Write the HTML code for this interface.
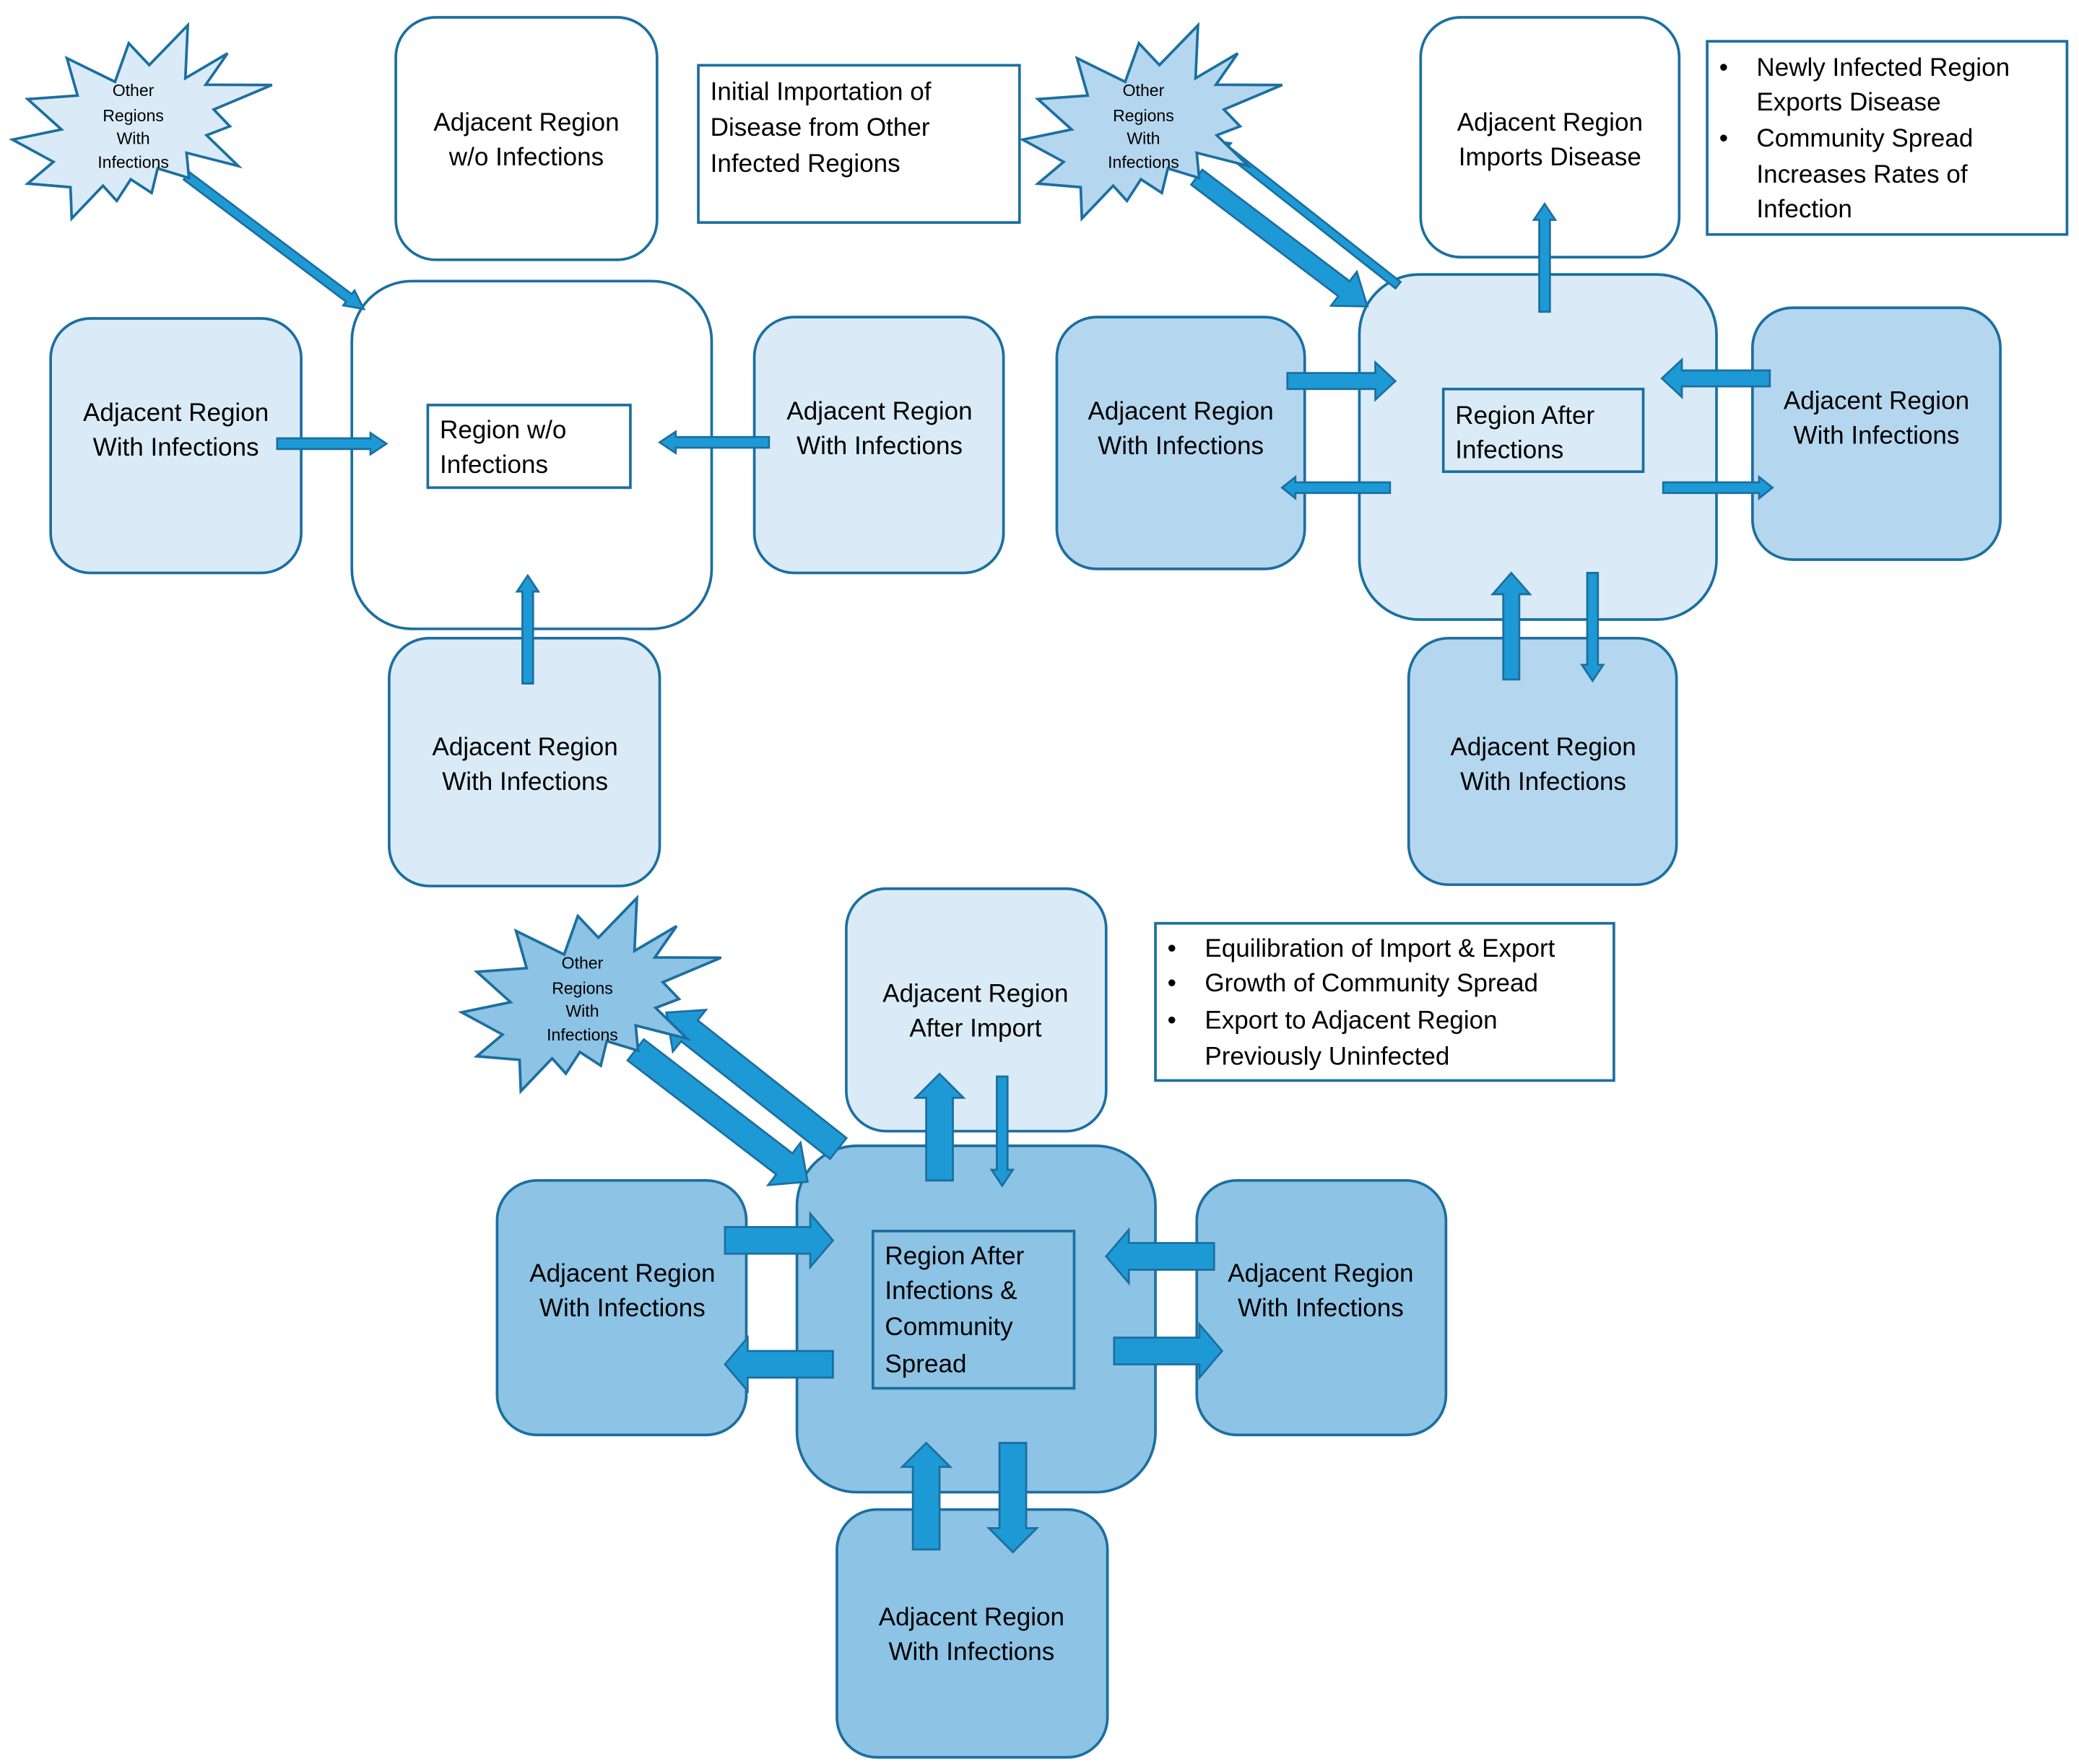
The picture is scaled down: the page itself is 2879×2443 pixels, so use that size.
<!DOCTYPE html>
<html><head><meta charset="utf-8">
<style>
html,body{margin:0;padding:0;background:#fff;}
svg{display:block;}
text{font-family:"Liberation Sans",sans-serif;fill:#000;}
</style></head>
<body>
<svg id="s" xmlns="http://www.w3.org/2000/svg" width="2879" height="2443" viewBox="0 0 1560 1324" preserveAspectRatio="none">
<g id="shapes" stroke="#1b6fa0" stroke-width="2">
<!-- Panel 1 -->
<rect x="297" y="13" width="196" height="182" rx="30" fill="#fff"/>
<rect x="264" y="211" width="270" height="261" rx="45" fill="#fff"/>
<rect x="38" y="239" width="188" height="191" rx="30" fill="#daebf7"/>
<rect x="566" y="238" width="187" height="192" rx="30" fill="#daebf7"/>
<rect x="292" y="479" width="203" height="186" rx="30" fill="#daebf7"/>
<rect x="321" y="304" width="152" height="62" fill="#fff"/>
<rect x="524" y="49" width="241" height="118" fill="#fff"/>
<!-- Panel 2 -->
<rect x="1066" y="13" width="194" height="180" rx="30" fill="#fff"/>
<rect x="1020" y="206" width="268" height="259" rx="45" fill="#daebf7"/>
<rect x="793" y="238" width="186" height="189" rx="30" fill="#b4d7ef"/>
<rect x="1315" y="231" width="186" height="189" rx="30" fill="#b4d7ef"/>
<rect x="1057" y="479" width="201" height="185" rx="30" fill="#b4d7ef"/>
<rect x="1083" y="292" width="150" height="62" fill="#daebf7"/>
<rect x="1281" y="31" width="270" height="145" fill="#fff"/>
<!-- Panel 3 -->
<rect x="635" y="667" width="195" height="182" rx="30" fill="#daebf7"/>
<rect x="598" y="860" width="269" height="260" rx="45" fill="#8dc3e5"/>
<rect x="373" y="886" width="187" height="191" rx="30" fill="#8dc3e5"/>
<rect x="898" y="886" width="187" height="191" rx="30" fill="#8dc3e5"/>
<rect x="628" y="1133" width="203" height="186" rx="30" fill="#8dc3e5"/>
<rect x="655" y="924" width="151" height="118" fill="#8dc3e5"/>
<rect x="867" y="693" width="344" height="118" fill="#fff"/>
</g>
<g id="arrows" fill="#1d9ad6" stroke="#1b6fa0" stroke-width="1.5"></g>
<g id="stars" fill="#daebf7" stroke="#1b6fa0" stroke-width="2"></g>
<g id="txt" font-size="19" text-anchor="middle">
<text x="395" y="98">Adjacent Region</text><text x="395" y="124">w/o Infections</text>
<text x="132" y="316">Adjacent Region</text><text x="132" y="342">With Infections</text>
<text x="660" y="315">Adjacent Region</text><text x="660" y="341">With Infections</text>
<text x="394" y="567">Adjacent Region</text><text x="394" y="593">With Infections</text>
<text x="1163" y="98">Adjacent Region</text><text x="1163" y="124">Imports Disease</text>
<text x="886" y="315">Adjacent Region</text><text x="886" y="341">With Infections</text>
<text x="1408" y="307">Adjacent Region</text><text x="1408" y="333">With Infections</text>
<text x="1158" y="567">Adjacent Region</text><text x="1158" y="593">With Infections</text>
<text x="732" y="752">Adjacent Region</text><text x="732" y="778">After Import</text>
<text x="467" y="962">Adjacent Region</text><text x="467" y="988">With Infections</text>
<text x="991" y="962">Adjacent Region</text><text x="991" y="988">With Infections</text>
<text x="729" y="1220">Adjacent Region</text><text x="729" y="1246">With Infections</text>
</g>
<g font-size="19">
<text x="330" y="329">Region w/o</text><text x="330" y="355">Infections</text>
<text x="533" y="75">Initial Importation of</text><text x="533" y="102">Disease from Other</text><text x="533" y="129">Infected Regions</text>
<text x="1092" y="318">Region After</text><text x="1092" y="344">Infections</text>
<text x="664" y="949">Region After</text><text x="664" y="975">Infections &amp;</text><text x="664" y="1002">Community</text><text x="664" y="1030">Spread</text>
<text x="1290" y="57">•</text><text x="1318" y="57">Newly Infected Region</text>
<text x="1318" y="83">Exports Disease</text>
<text x="1290" y="110">•</text><text x="1318" y="110">Community Spread</text>
<text x="1318" y="137">Increases Rates of</text>
<text x="1318" y="163">Infection</text>
<text x="876" y="718">•</text><text x="904" y="718">Equilibration of Import &amp; Export</text>
<text x="876" y="744">•</text><text x="904" y="744">Growth of Community Spread</text>
<text x="876" y="772">•</text><text x="904" y="772">Export to Adjacent Region</text>
<text x="904" y="799">Previously Uninfected</text>
</g>
<g font-size="12.5" text-anchor="middle">
<text x="100" y="72">Other</text><text x="100" y="91">Regions</text><text x="100" y="108">With</text><text x="100" y="126">Infections</text>
<text x="858" y="72">Other</text><text x="858" y="91">Regions</text><text x="858" y="108">With</text><text x="858" y="126">Infections</text>
<text x="437" y="727">Other</text><text x="437" y="746">Regions</text><text x="437" y="763">With</text><text x="437" y="781">Infections</text>
</g>
</svg>
<script>
var NS="http://www.w3.org/2000/svg";
function arrow(x1,y1,x2,y2,sw,hw,hl){
 var dx=x2-x1,dy=y2-y1,L=Math.sqrt(dx*dx+dy*dy),ux=dx/L,uy=dy/L,px=-uy,py=ux;
 var bx=x2-ux*hl,by=y2-uy*hl,s=sw/2,h=hw/2;
 var p=[[x1+px*s,y1+py*s],[bx+px*s,by+py*s],[bx+px*h,by+py*h],[x2,y2],[bx-px*h,by-py*h],[bx-px*s,by-py*s],[x1-px*s,y1-py*s]];
 var e=document.createElementNS(NS,"polygon");
 e.setAttribute("points",p.map(function(q){return q[0].toFixed(1)+","+q[1].toFixed(1)}).join(" "));
 document.getElementById("arrows").appendChild(e);
}
// Panel 1
arrow(208,333,290,333,8,16,12);
arrow(577,332,495,332,8,16,12);
arrow(396,513,396,432,8,16,12);
arrow(140,132,273,232,7,14,14);
// Panel 2
arrow(1159,234,1159,153,8,16,12);
arrow(966,286,1047,286,12,28,15);
arrow(1043,366,962,366,8,16,10);
arrow(1328,284,1247,284,12,28,15);
arrow(1248,366,1330,366,8,16,10);
arrow(1134,510,1134,430,12,28,16);
arrow(1195,430,1195,511,8,16,12);
arrow(898,133,1026,230,14,32,22);
arrow(1049,214,912,106,6,12,10);
// Panel 3
arrow(705,886,705,806,20,36,18);
arrow(752,808,752,890,8,16,12);
arrow(544,931,625,931,20,40,17);
arrow(625,1024,544,1024,20,40,17);
arrow(911,943,830,943,20,40,17);
arrow(836,1014,917,1014,20,40,17);
arrow(695,1163,695,1083,20,36,18);
arrow(760,1083,760,1165,20,36,18);
arrow(477,788,606,887,20,40,22);
arrow(629,862,500,760,20,40,22);
// Stars
var sp=[[780,45],[770,265],[945,162],[855,292],[1130,293],[888,395],[955,465],[858,502],[990,630],[775,575],[785,680],[655,640],[630,742],[543,685],[485,775],[428,712],[298,848],[293,718],[115,703],[222,613],[52,520],[255,478],[115,352],[322,337],[278,182],[478,280],[535,120],[620,210]];
function star(ox,oy,fill){
 var e=document.createElementNS(NS,"polygon");
 e.setAttribute("points",sp.map(function(q){return (q[0]*0.1806+ox).toFixed(1)+","+(q[1]*0.1806+10.84+oy).toFixed(1)}).join(" "));
 e.setAttribute("fill",fill);
 document.getElementById("stars").appendChild(e);
}
star(0,0,"#daebf7");
star(758,0,"#b4d7ef");
star(337,655,"#8dc3e5");
</script>
</body></html>
